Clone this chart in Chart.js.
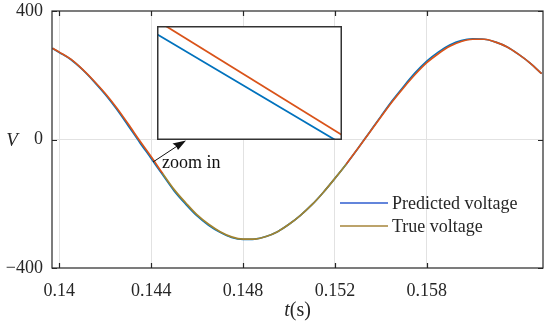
<!DOCTYPE html>
<html><head><meta charset="utf-8">
<script src="https://cdn.jsdelivr.net/npm/chart.js@4.4.0/dist/chart.umd.min.js"></script>
<style>
html,body{margin:0;padding:0;background:#fff;}
#wrap{position:relative;width:550px;height:328px;overflow:hidden;}
#main{position:absolute;left:0;top:0;}
#insetBox{position:absolute;left:157px;top:26px;width:185px;height:114px;}
</style></head><body>
<div id="wrap"><canvas id="main" width="550" height="328"></canvas>
<div id="insetBox"><canvas id="inset" width="185" height="114"></canvas></div></div>
<script>
// ---- data ----
const timeS = [0.1397,0.1400,0.1405,0.1410,0.1415,0.1420,0.1425,0.1430,0.1435,0.1440,0.1445,0.1450,0.1455,0.1460,0.1465,0.1470,0.1475,0.1480,0.1485,0.1490,0.1495,0.1500,0.1505,0.1510,0.1515,0.1520,0.1525,0.1530,0.1535,0.1540,0.1545,0.1550,0.1555,0.1560,0.1565,0.1570,0.1575,0.1580,0.1585,0.1590,0.1595,0.1600,0.1605,0.1610];
const trueVoltage = [284,272,250,219,183,143,98,48,-4,-54,-106,-156,-197,-235,-264,-287,-303,-310,-310,-302,-287,-264,-236,-203,-164,-121,-76,-28,21,70,118,162,203,239,267,290,305,312,312,303,288,265,238,205];
const predictedVoltage = [284,271,249,218,181,140,94,43,-9,-59,-110,-160,-201,-238,-267,-289,-305,-311,-310,-302,-287,-264,-236,-203,-164,-121,-76,-28,22,72,121,166,208,244,272,294,308,313,312,303,288,265,238,205];
const xTickValues = [0.14,0.144,0.148,0.152,0.156];
const xTickLabels = ['0.14','0.144','0.148','0.152','0.158'];
const yTickValues = [-400,0,400];
const yTickLabels = ['\u2212400','0','400'];
const seriesLabels = ['Predicted voltage','True voltage'];
// inset (zoomed view, normalised coordinates)
const insetPredX = [0,0.964];
const insetPredY = [0.927,0];
const insetTrueX = [0.047,1.0];
const insetTrueY = [1.0,0.044];

// ---- styles ----
const FONT = "'Liberation Serif','Times New Roman',serif";
const TXT = '#262626';
const BLUE = '#0072BD', RED = '#D95319', OLIVE = '#A3832E';
const LEG_BLUE = '#2f5ccf', LEG_OLIVE = '#a6843a';
const OLIVE_FROM = 0.1443, OLIVE_TO = 0.1528;

const framePlugin = {
  id:'frame',
  afterDraw(chart){
    const c = chart.ctx, a = chart.chartArea;
    const xs = chart.scales.x, ys = chart.scales.y;
    c.save();
    c.strokeStyle = TXT; c.lineWidth = 1.2;
    c.strokeRect(a.left, a.top, a.right - a.left, a.bottom - a.top);
    c.beginPath();
    xTickValues.forEach(v=>{
      const p = Math.round(xs.getPixelForValue(v))+0.5;
      c.moveTo(p, a.bottom); c.lineTo(p, a.bottom-5);
      c.moveTo(p, a.top); c.lineTo(p, a.top+5);
    });
    yTickValues.forEach(v=>{
      const p = Math.round(ys.getPixelForValue(v))+0.5;
      c.moveTo(a.left, p); c.lineTo(a.left+5, p);
      c.moveTo(a.right, p); c.lineTo(a.right-5, p);
    });
    c.stroke();
    // axis titles
    c.fillStyle = TXT; c.textBaseline = 'middle';
    c.font = "italic 19px " + FONT;
    c.textAlign = 'center';
    c.fillText('V', 12, 141);
    c.font = "italic 20px " + FONT;
    const tW = c.measureText('t').width;
    c.font = "20px " + FONT;
    const sW = c.measureText('(s)').width;
    const cx = (a.left + a.right)/2, tot = tW + sW;
    c.textAlign = 'left';
    c.font = "italic 20px " + FONT;
    c.fillText('t', cx - tot/2, 311);
    c.font = "20px " + FONT;
    c.fillText('(s)', cx - tot/2 + tW, 311);
    // legend
    const legCols = [LEG_BLUE, LEG_OLIVE], legY = [203, 226];
    c.font = "18px " + FONT;
    seriesLabels.forEach((lab,i)=>{
      c.strokeStyle = legCols[i]; c.lineWidth = 1.5;
      c.beginPath(); c.moveTo(340, legY[i]); c.lineTo(388, legY[i]); c.stroke();
      c.fillStyle = TXT; c.textBaseline = 'middle';
      c.fillText(lab, 392, legY[i]+1);
    });
    // annotation
    c.strokeStyle = '#111'; c.fillStyle = '#111'; c.lineWidth = 1;
    c.beginPath(); c.moveTo(153, 162); c.lineTo(178, 145.5); c.stroke();
    c.beginPath(); c.moveTo(186, 140.5); c.lineTo(172.5, 143.5); c.lineTo(176, 146); c.lineTo(178, 150); c.closePath(); c.fill();
    c.font = "18px " + FONT; c.textBaseline = 'alphabetic'; c.fillStyle = '#111';
    c.fillText('zoom in', 162, 168);
    c.restore();
  }
};

new Chart(document.getElementById('main'), {
  type:'line',
  data:{datasets:[
    {label:seriesLabels[0], data: timeS.map((t,i)=>({x:t,y:predictedVoltage[i]})), borderColor:BLUE, borderWidth:1.7, pointRadius:0, cubicInterpolationMode:'monotone', order:2},
    {label:seriesLabels[1], data: timeS.map((t,i)=>({x:t,y:trueVoltage[i]})), borderColor:RED, borderWidth:1.7, pointRadius:0, cubicInterpolationMode:'monotone', order:1,
     segment:{borderColor: ctx => (ctx.p0.parsed.x >= OLIVE_FROM && ctx.p1.parsed.x <= OLIVE_TO) ? OLIVE : undefined}}
  ]},
  options:{
    responsive:false, animation:false, devicePixelRatio:1,
    layout:{padding:{left:0,right:7,top:0,bottom:0}},
    plugins:{legend:{display:false}, tooltip:{enabled:false}},
    scales:{
      x:{type:'linear', min:0.13968, max:0.16106,
         afterFit:s=>{s.height=60; s.paddingLeft=0; s.paddingRight=0;},
         afterBuildTicks:s=>{s.ticks = xTickValues.map(v=>({value:v}));},
         ticks:{callback:(v,i)=>xTickLabels[i], font:{family:FONT,size:18}, color:TXT, padding:12, maxRotation:0, autoSkip:false},
         grid:{color:'#e2e2e2', drawTicks:false}, border:{display:false}},
      y:{min:-400, max:400,
         afterFit:s=>{s.width=52; s.paddingTop=11; s.paddingBottom=11;},
         afterBuildTicks:s=>{s.ticks = yTickValues.map(v=>({value:v}));},
         ticks:{callback:(v,i)=>yTickLabels[i], font:{family:FONT,size:18}, color:TXT, padding:9},
         grid:{color: ctx => (ctx.tick && ctx.tick.value === 0) ? '#e2e2e2' : 'rgba(0,0,0,0)', drawTicks:false}, border:{display:false}}
    }
  },
  plugins:[framePlugin]
});

new Chart(document.getElementById('inset'), {
  type:'line',
  data:{datasets:[
    {data: insetPredX.map((x,i)=>({x:x,y:insetPredY[i]})), borderColor:BLUE, borderWidth:1.8, pointRadius:0},
    {data: insetTrueX.map((x,i)=>({x:x,y:insetTrueY[i]})), borderColor:RED, borderWidth:1.8, pointRadius:0}
  ]},
  options:{
    responsive:false, animation:false, devicePixelRatio:1,
    layout:{padding:0},
    plugins:{legend:{display:false}, tooltip:{enabled:false}},
    scales:{x:{type:'linear',min:0,max:1,display:false}, y:{min:0,max:1,display:false}}
  },
  plugins:[{id:'box',
    beforeDraw(ch){const c=ch.ctx; c.save(); c.fillStyle='#fff'; c.fillRect(0,0,ch.width,ch.height); c.restore();},
    afterDraw(ch){const c=ch.ctx; c.save(); c.strokeStyle='#333'; c.lineWidth=1.5; c.strokeRect(0.75,0.75,ch.width-1.5,ch.height-1.5); c.restore();}}]
});
</script>
</body></html>
